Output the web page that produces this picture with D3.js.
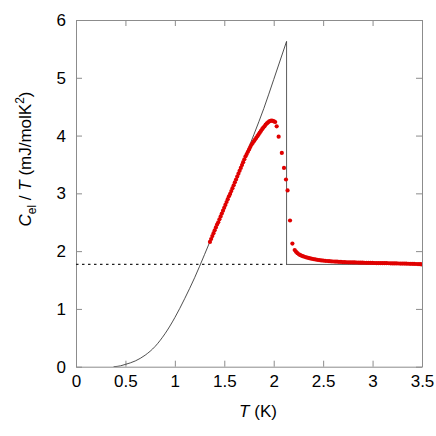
<!DOCTYPE html>
<html>
<head>
<meta charset="utf-8">
<script src="https://cdn.jsdelivr.net/npm/d3@7"></script>
<style>
  html, body { margin: 0; padding: 0; background: #fff; }
  svg { display: block; }
  text { font-family: "Liberation Sans", Arial, Helvetica, sans-serif; }
</style>
</head>
<body>
<svg id="chart" width="436" height="436"></svg>
<script>
// ---- data ----
const xTicks = [0, 0.5, 1, 1.5, 2, 2.5, 3, 3.5];
const yTicks = [0, 1, 2, 3, 4, 5, 6];
const bcsT = [0.38, 0.45, 0.50, 0.60, 0.70, 0.80, 0.90, 1.00, 1.10, 1.20, 1.30, 1.40, 1.50, 1.60, 1.70, 1.80, 1.90, 2.00, 2.13];
const bcsC = [0.00, 0.015, 0.04, 0.10, 0.20, 0.35, 0.57, 0.85, 1.18, 1.54, 1.94, 2.35, 2.76, 3.17, 3.59, 4.02, 4.47, 4.97, 5.63];
const jumpT = [2.13, 2.13, 3.5];
const jumpC = [5.63, 1.77, 1.77];
const normT = [0, 2.13];
const normC = [1.77, 1.77];
const dataT = [
  1.355, 1.367, 1.379, 1.391, 1.403, 1.415, 1.427, 1.439, 1.451, 1.463,
  1.475, 1.487, 1.499, 1.511, 1.523, 1.535, 1.547, 1.559, 1.571, 1.583,
  1.595, 1.607, 1.619, 1.631, 1.643, 1.655, 1.667, 1.679, 1.691, 1.703,
  1.715, 1.727, 1.739, 1.751, 1.763, 1.775, 1.787, 1.799, 1.811, 1.823,
  1.835, 1.847, 1.859, 1.871, 1.883, 1.895, 1.907, 1.919, 1.931, 1.943,
  1.955, 1.967, 1.979, 1.991, 2.003, 2.015, 2.030, 2.050, 2.082, 2.104,
  2.124, 2.140, 2.165, 2.189, 2.212, 2.225, 2.240, 2.255, 2.270, 2.285,
  2.300, 2.320, 2.340, 2.360, 2.380, 2.400, 2.420, 2.440, 2.460, 2.480,
  2.500, 2.520, 2.540, 2.560, 2.580, 2.600, 2.620, 2.640, 2.660, 2.680,
  2.700, 2.720, 2.740, 2.760, 2.780, 2.800, 2.820, 2.840, 2.860, 2.880,
  2.900, 2.920, 2.940, 2.960, 2.980, 3.000, 3.020, 3.040, 3.060, 3.080,
  3.100, 3.120, 3.140, 3.160, 3.180, 3.200, 3.220, 3.240, 3.260, 3.280,
  3.300, 3.320, 3.340, 3.360, 3.380, 3.400, 3.420, 3.440, 3.460, 3.480, 3.495
];
const dataC = [
  2.16, 2.21, 2.26, 2.31, 2.36, 2.41, 2.46, 2.50, 2.55, 2.60,
  2.65, 2.70, 2.75, 2.80, 2.85, 2.90, 2.95, 2.99, 3.04, 3.09,
  3.14, 3.19, 3.24, 3.29, 3.34, 3.39, 3.44, 3.49, 3.54, 3.59,
  3.64, 3.68, 3.72, 3.76, 3.80, 3.84, 3.87, 3.90, 3.93, 3.96,
  3.99, 4.02, 4.05, 4.08, 4.11, 4.14, 4.16, 4.19, 4.21, 4.23,
  4.245, 4.255, 4.26, 4.255, 4.245, 4.235, 4.16, 3.98, 3.70, 3.44,
  3.24, 3.05, 2.53, 2.13, 2.02, 1.99, 1.965, 1.945, 1.93, 1.918,
  1.908, 1.897, 1.887, 1.878, 1.870, 1.862, 1.856, 1.850, 1.845, 1.840,
  1.836, 1.832, 1.829, 1.826, 1.823, 1.821, 1.819, 1.817, 1.815, 1.813,
  1.811, 1.810, 1.808, 1.807, 1.806, 1.805, 1.804, 1.803, 1.802, 1.801,
  1.800, 1.799, 1.798, 1.797, 1.797, 1.796, 1.795, 1.794, 1.794, 1.793,
  1.792, 1.791, 1.791, 1.790, 1.789, 1.788, 1.788, 1.787, 1.786, 1.785,
  1.785, 1.784, 1.783, 1.782, 1.781, 1.780, 1.779, 1.777, 1.776, 1.774, 1.772
];

// ---- layout ----
const svg = d3.select("#chart");
const L = 76, R = 422, T = 20, B = 366.7;
const x = d3.scaleLinear().domain([0, 3.5]).range([L, R]);
const y = d3.scaleLinear().domain([0, 6]).range([B, T]);
const frameColor = "#8c8c8c";
const fs = 17;

function styleAxis(g) {
  g.select(".domain").attr("stroke", frameColor).attr("stroke-width", 1);
  g.selectAll(".tick line").attr("stroke", frameColor).attr("stroke-width", 1);
  g.selectAll(".tick text").attr("fill", "#000").style("font-size", fs + "px")
    .style("font-family", '"Liberation Sans", Arial, sans-serif');
}

svg.append("g").attr("transform", `translate(0,${B})`)
  .call(d3.axisBottom(x).tickValues(xTicks).tickFormat(d3.format("")).tickSizeInner(-6).tickSizeOuter(0).tickPadding(8.5))
  .call(styleAxis);
svg.append("g").attr("transform", `translate(0,${T})`)
  .call(d3.axisTop(x).tickValues(xTicks).tickFormat("").tickSizeInner(-6).tickSizeOuter(0))
  .call(styleAxis);
svg.append("g").attr("transform", `translate(${L},0)`)
  .call(d3.axisLeft(y).tickValues(yTicks).tickFormat(d3.format("d")).tickSizeInner(-6).tickSizeOuter(0).tickPadding(10))
  .call(styleAxis);
svg.append("g").attr("transform", `translate(${R},0)`)
  .call(d3.axisRight(y).tickValues(yTicks).tickFormat("").tickSizeInner(-6).tickSizeOuter(0))
  .call(styleAxis);

svg.append("clipPath").attr("id", "clip")
  .append("rect").attr("x", L).attr("y", T - 2).attr("width", R - L).attr("height", B - T + 2);

const plot = svg.append("g").attr("clip-path", "url(#clip)");

// dashed normal-state line
plot.append("path")
  .datum(normT.map((t, i) => [t, normC[i]]))
  .attr("d", d3.line().x(d => x(d[0])).y(d => y(d[1])))
  .attr("fill", "none").attr("stroke", "#222").attr("stroke-width", 1.3)
  .attr("stroke-dasharray", "2.5,3.5");

// BCS curve
plot.append("path")
  .datum(bcsT.map((t, i) => [t, bcsC[i]]))
  .attr("d", d3.line().curve(d3.curveMonotoneX).x(d => x(d[0])).y(d => y(d[1])))
  .attr("fill", "none").attr("stroke", "#222").attr("stroke-width", 0.8);

// jump + normal state (solid)
plot.append("path")
  .datum(jumpT.map((t, i) => [t, jumpC[i]]))
  .attr("d", d3.line().x(d => x(d[0])).y(d => y(d[1])))
  .attr("fill", "none").attr("stroke", "#333").attr("stroke-width", 0.8);

// data points
plot.append("g").selectAll("circle")
  .data(dataT.map((t, i) => [t, dataC[i]]))
  .join("circle")
  .attr("cx", d => x(d[0])).attr("cy", d => y(d[1]))
  .attr("r", 2.1).attr("fill", "#e00000");

// axis titles
const xt = svg.append("text").attr("x", 258).attr("y", 417)
  .attr("text-anchor", "middle").style("font-size", fs + "px");
xt.append("tspan").style("font-style", "italic").text("T");
xt.append("tspan").text(" (K)");

const yt = svg.append("text")
  .attr("transform", "translate(31,159) rotate(-90)")
  .attr("text-anchor", "middle").style("font-size", fs + "px");
yt.append("tspan").style("font-style", "italic").text("C");
yt.append("tspan").attr("dy", 5).style("font-size", "12px").text("el");
yt.append("tspan").attr("dy", -5).text(" / ");
yt.append("tspan").style("font-style", "italic").text("T");
yt.append("tspan").text(" (mJ/molK");
yt.append("tspan").attr("dy", -7).style("font-size", "12px").text("2");
yt.append("tspan").attr("dy", 7).text(")");
</script>
</body>
</html>
